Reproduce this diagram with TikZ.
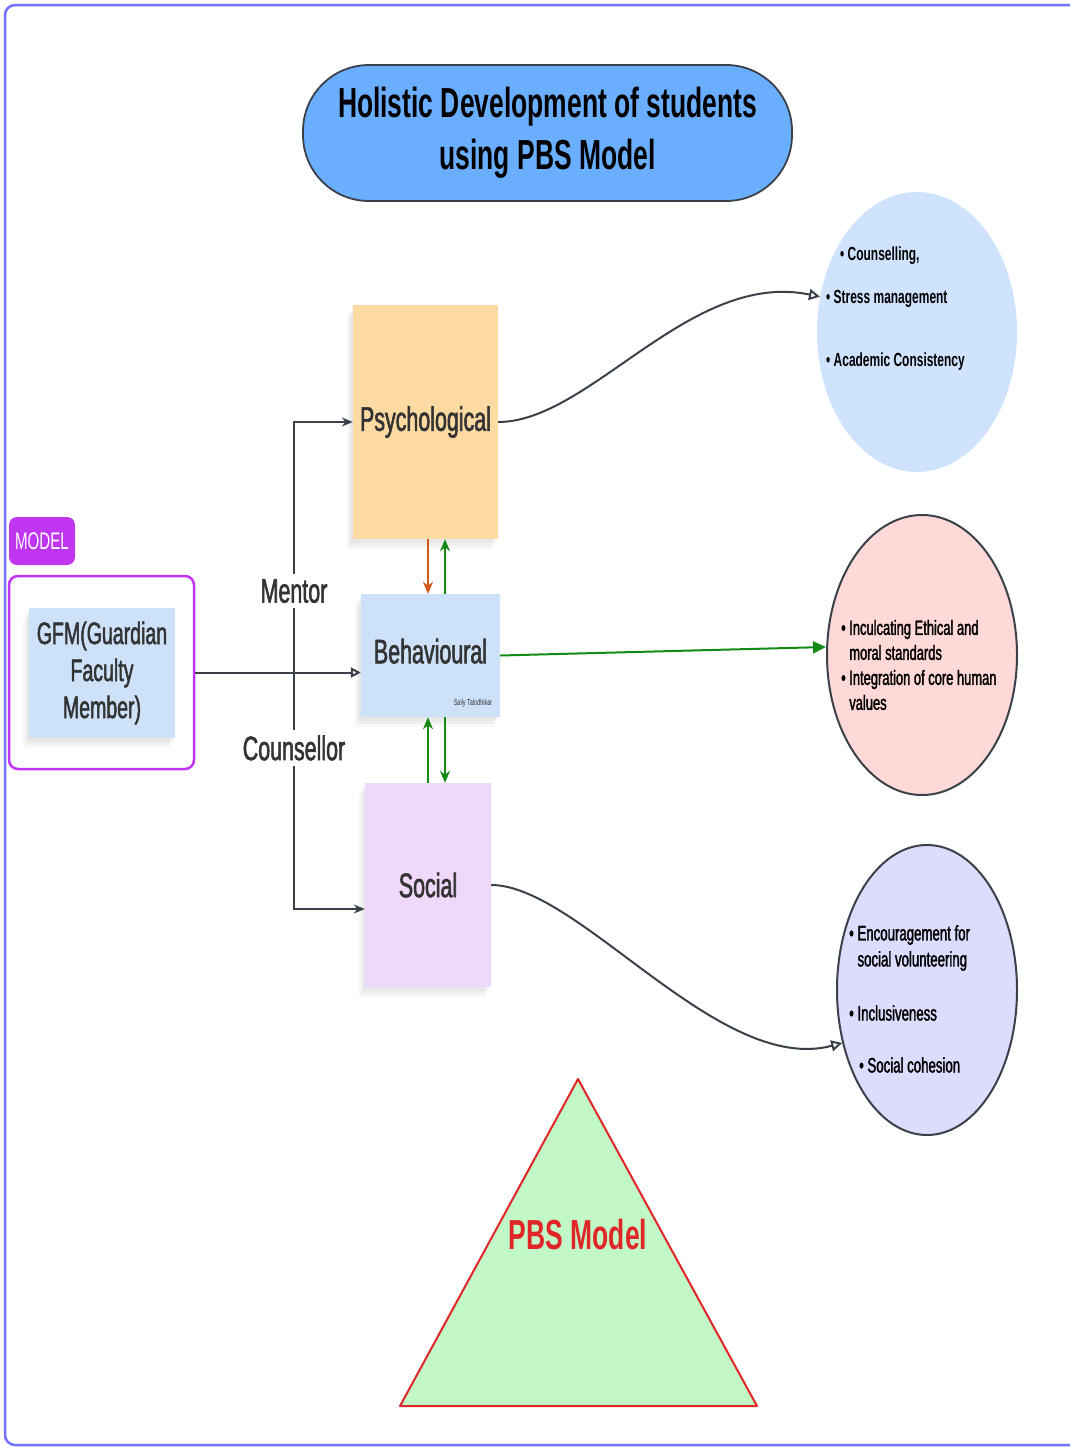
\documentclass[tikz,border=0pt]{standalone}
\usepackage{fontspec}
\setmainfont[FakeStretch=0.63]{Liberation Sans}
\newfontfamily\pbsMedium[FakeStretch=0.63, FakeBold=1.6]{Liberation Sans}
\usetikzlibrary{arrows.meta, positioning, shapes.geometric, shadows}
\definecolor{pbsInk}{HTML}{3A414A}
\definecolor{pbsText}{HTML}{333333}
\definecolor{pbsFrame}{HTML}{7272FF}
\definecolor{pbsTitle}{HTML}{6AAFFF}
\definecolor{pbsPsych}{HTML}{FDDAA2}
\definecolor{pbsBehav}{HTML}{CDE1F9}
\definecolor{pbsSocial}{HTML}{EFD8FA}
\definecolor{pbsViolet}{HTML}{C035F0}
\definecolor{pbsBlue}{HTML}{CFE3FF}
\definecolor{pbsPink}{HTML}{FFD8D8}
\definecolor{pbsLilac}{HTML}{DCDCFE}
\definecolor{pbsLeaf}{HTML}{C2F7C8}
\definecolor{pbsRed}{HTML}{E02626}
\definecolor{pbsGreen}{HTML}{138A13}
\definecolor{pbsRust}{HTML}{D4561A}

\begin{document}
\begin{tikzpicture}[x=1pt, y=-1pt,
    note/.style={inner sep=0pt, text=pbsText, font=\pbsMedium\fontsize{34}{40}\selectfont,
      drop shadow={shadow xshift=-2pt, shadow yshift=-4pt, opacity=0.07},
      drop shadow={shadow xshift=-4pt, shadow yshift=-7pt, opacity=0.07},
      drop shadow={shadow xshift=-6pt, shadow yshift=-10pt, opacity=0.06}},
    oval/.style={ellipse, inner sep=0pt},
    pointlist/.style={anchor=west, align=left, inner sep=0pt, text=black},
    link/.style={pbsInk, line width=2pt},
    growth/.style={pbsGreen, line width=2pt, -{Stealth[length=12pt, width=10pt]}}]
  \clip (0,0) rectangle (1070,1448);
  \draw[pbsFrame, line width=2.5pt, rounded corners=10pt] (5,5) rectangle (1100,1445);

  % title
  \node (title) [draw=pbsInk, line width=1.8pt, fill=pbsTitle, rounded corners=66pt,
    minimum width=489pt, minimum height=136pt, align=center,
    font=\bfseries\fontsize{42}{52}\selectfont] at (547.5,133)
    {Holistic Development of students\\using PBS Model};

  % the three aspects
  \node (psych) [note, fill=pbsPsych, minimum width=145pt, minimum height=234pt] at (425.5,422) {Psychological};
  \node (behav) [note, fill=pbsBehav, minimum width=139pt, minimum height=123pt] at (430.5,655.5) {\raisebox{9pt}{Behavioural}};
  \node (social) [note, fill=pbsSocial, minimum width=126pt, minimum height=204pt] at (428,885) {Social};
  \node (signature) [inner sep=0pt, text=pbsText, font=\fontsize{8.7}{10}\selectfont] at (473,703) {Saily Talodhikar};

  % GFM side
  \node (modelTag) [fill=pbsViolet, rounded corners=8pt, minimum width=66pt, minimum height=48pt,
    text=white, font=\fontsize{24}{28}\selectfont] at (42,541) {MODEL};
  \node (gfmFrame) [draw=pbsViolet, line width=2.5pt, rounded corners=9pt,
    minimum width=185pt, minimum height=193pt] at (101.5,672.5) {};
  \node (gfm) [note, fill=pbsBehav, minimum width=146pt, minimum height=130pt, align=center,
    font=\pbsMedium\fontsize{31}{37}\selectfont] at (102,673) {GFM(Guardian\\Faculty\\Member)};

  \node (mentor) [fill=white, inner sep=5pt, text=pbsText, font=\pbsMedium\fontsize{34}{40}\selectfont] at (294,591) {Mentor};
  \node (counsellor) [fill=white, inner sep=5pt, text=pbsText, font=\pbsMedium\fontsize{34}{40}\selectfont] at (294,748) {Counsellor};

  % outcome ovals
  \node (blueOval) [oval, fill=pbsBlue, minimum width=200pt, minimum height=280pt] at (917,332) {};
  \node (pinkOval) [oval, draw=pbsInk, line width=2pt, fill=pbsPink, minimum width=190pt, minimum height=280pt] at (922,655) {};
  \node (lilacOval) [oval, draw=pbsInk, line width=2pt, fill=pbsLilac, minimum width=180pt, minimum height=290pt] at (927,990) {};

  \begin{scope}[every node/.append style={pointlist, font=\bfseries\fontsize{19}{24}\selectfont}]
    \node (psyA) at (840,256) {\textbullet\ Counselling,};
    \node (psyB) at (826,299) {\textbullet\ Stress management};
    \node (psyC) at (826,362) {\textbullet\ Academic Consistency};
  \end{scope}
  \begin{scope}[every node/.append style={pointlist, font=\pbsMedium\fontsize{20.5}{25}\selectfont}]
    \node (behA) at (841,640) {\textbullet\ Inculcating Ethical and\\\phantom{\textbullet\ }moral standards};
    \node (behB) at (841,690) {\textbullet\ Integration of core human\\\phantom{\textbullet\ }values};
  \end{scope}
  \begin{scope}[every node/.append style={pointlist, font=\pbsMedium\fontsize{21}{26}\selectfont}]
    \node (socA) at (849,948) {\textbullet\ Encouragement for\\\phantom{\textbullet\ }social volunteering};
    \node (socB) at (849,1013) {\textbullet\ Inclusiveness};
    \node (socC) at (859,1065) {\textbullet\ Social cohesion};
  \end{scope}

  % connectors
  \coordinate (laneL) at (428,0);
  \coordinate (laneR) at (445,0);
  \draw[link, -{Triangle[open, length=10pt, width=10pt]}] (gfmFrame.east) -- (gfmFrame.east -| behav.west);
  \draw[link] (mentor) -- (counsellor);
  \draw[link, -{Stealth[length=11pt, width=9pt]}] (mentor) |- (psych.west);
  \draw[link, -{Stealth[length=11pt, width=9pt]}] (counsellor) |- ([yshift=-24pt]social.west);

  \draw[pbsRust, line width=2pt, -{Stealth[length=12pt, width=10pt]}] (psych.south -| laneL) -- (behav.north -| laneL);
  \draw[growth] (behav.north -| laneR) -- (psych.south -| laneR);
  \draw[growth] (social.north -| laneL) -- (behav.south -| laneL);
  \draw[growth] (behav.south -| laneR) -- (social.north -| laneR);
  \draw[pbsGreen, line width=2pt, -{Triangle[length=13pt, width=12pt]}] (behav.east) -- ([yshift=8pt]pinkOval.west);

  \draw[link, -{Triangle[open, length=11pt, width=11pt]}] (psych.east)
    .. controls +(92,0) and +(-130,-27) .. (blueOval.160);
  \draw[link, -{Triangle[open, length=11pt, width=11pt]}] (social.east)
    .. controls +(88,0) and +(-123,33) .. (lilacOval.212);

  % PBS triangle
  \draw[pbsRed, fill=pbsLeaf, line width=2pt, line join=round] (578,1079) -- (757,1406) -- (400,1406) -- cycle;
  \node (pbsLabel) [text=pbsRed, font=\bfseries\fontsize{42}{50}\selectfont] at (578,1234) {PBS Model};
\end{tikzpicture}
\end{document}
